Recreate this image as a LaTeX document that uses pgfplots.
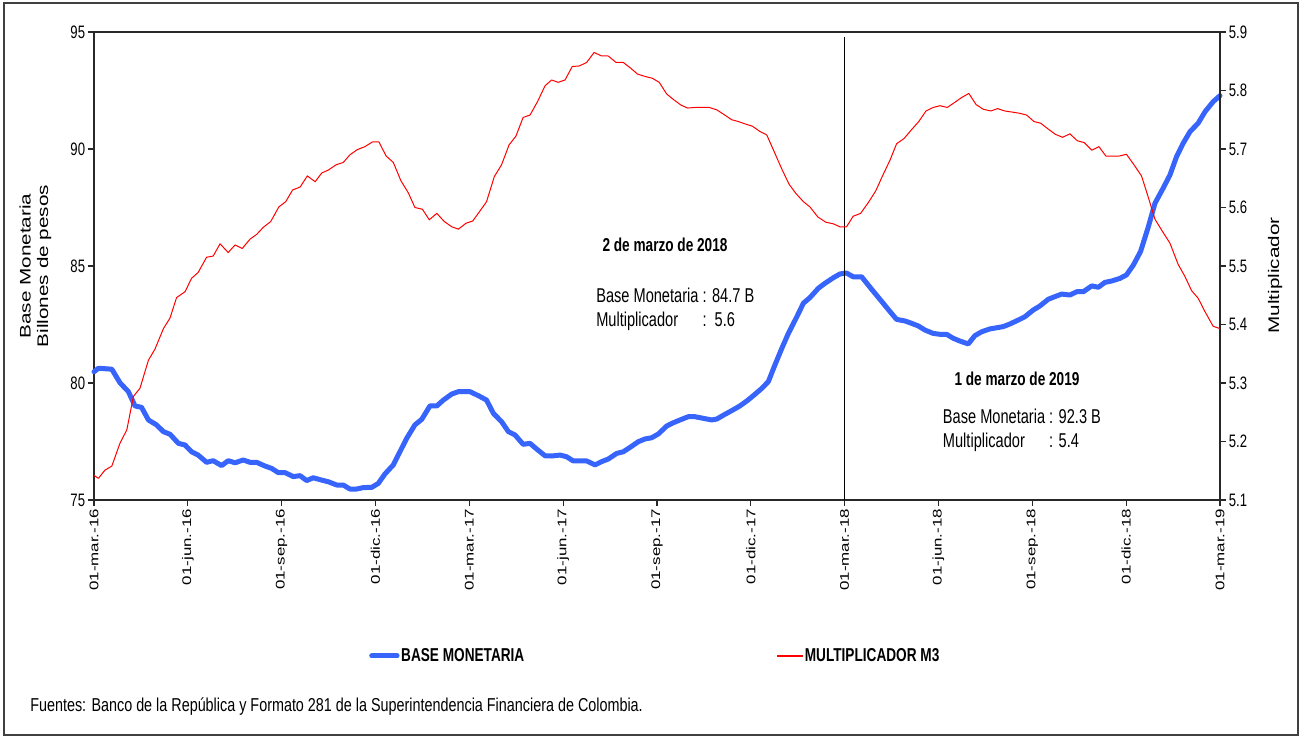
\documentclass[border=0pt]{standalone}
\usepackage{fontspec}
\setmainfont{Liberation Sans}
\newfontfamily\narrow[FakeStretch=0.73]{Liberation Sans}
\newfontfamily\narrowb[FakeStretch=0.77]{Liberation Sans}
\newfontfamily\wide[FakeStretch=1.35]{Liberation Sans}
\usepackage{pgfplots}
\usepackage{pgfplotstable}
\pgfplotsset{compat=1.18}
\definecolor{bmblue}{RGB}{55,100,250}
\definecolor{mred}{RGB}{255,0,0}
\definecolor{axgray}{RGB}{40,40,40}

\pgfplotstableread{
m v
0 80.48
0.14 80.63
0.57 80.59
0.83 80.01
1.10 79.63
1.31 79.02
1.52 78.96
1.74 78.42
2.00 78.21
2.22 77.92
2.43 77.81
2.70 77.42
2.91 77.35
3.12 77.06
3.33 76.92
3.60 76.61
3.81 76.68
4.08 76.47
4.29 76.68
4.51 76.59
4.77 76.71
4.99 76.61
5.20 76.61
5.47 76.45
5.68 76.35
5.89 76.17
6.11 76.17
6.37 76.00
6.59 76.04
6.80 75.83
7.01 75.95
7.28 75.85
7.49 75.78
7.76 75.64
7.97 75.64
8.18 75.47
8.40 75.47
8.61 75.53
8.88 75.54
9.09 75.71
9.30 76.11
9.57 76.50
9.78 77.06
10.00 77.64
10.26 78.21
10.48 78.45
10.74 79.02
10.96 79.02
11.17 79.27
11.44 79.53
11.65 79.63
12.02 79.63
12.30 79.45
12.55 79.27
12.77 78.70
13.03 78.35
13.25 77.92
13.46 77.78
13.72 77.38
13.94 77.42
14.15 77.18
14.42 76.89
14.63 76.88
14.90 76.92
15.11 76.85
15.32 76.67
15.75 76.67
16.02 76.50
16.23 76.64
16.44 76.75
16.71 76.99
16.92 77.06
17.14 77.25
17.40 77.49
17.62 77.61
17.83 77.66
18.04 77.82
18.31 78.16
18.52 78.30
18.79 78.45
19.00 78.56
19.21 78.56
19.48 78.49
19.75 78.42
19.91 78.46
20.17 78.66
20.39 78.82
20.65 79.02
20.87 79.23
21.08 79.46
21.35 79.77
21.56 80.06
21.77 80.77
21.99 81.48
22.20 82.12
22.47 82.83
22.68 83.41
22.89 83.65
23.16 84.05
23.37 84.26
23.64 84.50
23.85 84.66
24.06 84.70
24.27 84.54
24.54 84.54
24.75 84.19
24.97 83.83
25.23 83.41
25.45 83.05
25.66 82.72
25.93 82.65
26.14 82.55
26.35 82.44
26.57 82.26
26.83 82.12
27.05 82.08
27.26 82.08
27.47 81.91
27.69 81.79
27.95 81.67
28.16 82.02
28.38 82.19
28.64 82.31
28.86 82.36
29.07 82.41
29.28 82.52
29.55 82.69
29.76 82.83
30.03 83.12
30.24 83.29
30.51 83.58
30.72 83.69
30.94 83.80
31.20 83.76
31.42 83.90
31.63 83.90
31.90 84.15
32.11 84.09
32.32 84.30
32.54 84.36
32.80 84.47
33.01 84.62
33.23 85.04
33.46 85.62
33.71 86.68
33.92 87.68
34.18 88.32
34.40 88.89
34.61 89.67
34.82 90.24
35.04 90.74
35.30 91.10
35.52 91.59
35.78 92.02
36.00 92.28
}\basetable

\pgfplotstableread{
m v
0 5.142
0.14 5.137
0.35 5.151
0.57 5.158
0.83 5.197
1.05 5.220
1.26 5.277
1.47 5.291
1.74 5.339
1.95 5.358
2.22 5.393
2.43 5.411
2.64 5.446
2.91 5.456
3.12 5.479
3.33 5.489
3.60 5.515
3.81 5.517
4.03 5.538
4.29 5.523
4.51 5.536
4.74 5.530
4.99 5.546
5.20 5.554
5.41 5.566
5.65 5.576
5.91 5.601
6.13 5.610
6.35 5.630
6.59 5.635
6.82 5.654
7.07 5.644
7.28 5.659
7.49 5.664
7.74 5.673
7.97 5.677
8.18 5.690
8.42 5.699
8.66 5.704
8.90 5.712
9.11 5.712
9.34 5.688
9.57 5.677
9.81 5.646
10.05 5.625
10.26 5.600
10.50 5.597
10.72 5.579
10.96 5.590
11.20 5.576
11.44 5.567
11.65 5.563
11.89 5.573
12.11 5.577
12.34 5.594
12.55 5.610
12.80 5.653
13.03 5.673
13.27 5.707
13.49 5.722
13.72 5.754
13.94 5.758
14.18 5.781
14.42 5.808
14.63 5.818
14.84 5.814
15.06 5.818
15.29 5.841
15.52 5.842
15.75 5.848
15.99 5.865
16.23 5.859
16.44 5.859
16.69 5.848
16.92 5.848
17.14 5.839
17.38 5.828
17.62 5.824
17.85 5.821
18.07 5.814
18.31 5.794
18.54 5.784
18.77 5.775
18.98 5.770
19.21 5.771
19.67 5.771
19.91 5.767
20.14 5.759
20.39 5.750
20.60 5.747
20.81 5.743
21.05 5.739
21.29 5.730
21.51 5.724
21.75 5.695
21.98 5.667
22.22 5.640
22.44 5.624
22.68 5.610
22.89 5.601
23.14 5.584
23.39 5.575
23.64 5.572
23.85 5.567
24.06 5.567
24.27 5.585
24.51 5.590
24.75 5.608
24.99 5.628
25.21 5.654
25.45 5.681
25.66 5.709
25.90 5.718
26.12 5.732
26.37 5.747
26.60 5.765
26.83 5.771
27.05 5.774
27.28 5.771
27.50 5.779
27.74 5.788
27.97 5.795
28.20 5.776
28.43 5.768
28.67 5.765
28.89 5.769
29.12 5.765
29.37 5.763
29.60 5.761
29.82 5.758
30.05 5.747
30.27 5.744
30.51 5.734
30.74 5.725
30.97 5.720
31.20 5.726
31.44 5.714
31.66 5.711
31.90 5.698
32.13 5.704
32.35 5.688
32.78 5.688
33.01 5.691
33.25 5.673
33.49 5.654
33.71 5.617
33.92 5.580
34.15 5.560
34.40 5.539
34.66 5.503
34.88 5.482
35.09 5.458
35.30 5.445
35.52 5.422
35.78 5.397
36.00 5.393
}\multtable

\begin{document}
\begin{tikzpicture}
\useasboundingbox (0pt,0pt) rectangle (975pt,552pt);
\draw[line width=0.8pt, black!75] (3pt,0.75pt) rectangle (973.5pt,549.75pt);

\begin{axis}[
  at={(70.5pt,177pt)}, anchor=south west,
  scale only axis, width=844.5pt, height=351pt,
  xmin=0, xmax=36, ymin=75, ymax=95,
  xtick={0,3,...,36},
  xticklabels={01-mar.-16,01-jun.-16,01-sep.-16,01-dic.-16,01-mar.-17,01-jun.-17,01-sep.-17,01-dic.-17,01-mar.-18,01-jun.-18,01-sep.-18,01-dic.-18,01-mar.-19},
  ytick={75,80,85,90,95},
  tick align=outside, tick pos=left,
  major tick length=4.5pt,
  tick style={axgray, line width=0.8pt},
  axis line style={axgray, line width=1pt},
  /pgf/number format/assume math mode=true,
  x tick label style={rotate=90, anchor=east, font=\wide\fontsize{9.4}{11}\selectfont, inner sep=2pt},
  y tick label style={font=\narrow\fontsize{13.5}{16}\selectfont, inner sep=2pt},
  ylabel={Base Monetaria\\Billones de pesos},
  ylabel style={align=center, font=\wide\fontsize{11.5}{13}\selectfont, at={(axis description cs:-0.052,0.5)}, anchor=center},
  clip=false,
]
\addplot[bmblue, line width=3.75pt, line join=round, line cap=round] table[x=m, y=v] {\basetable};
\draw[black, line width=0.75pt] (axis cs:24,75) -- (axis cs:24,94.8);
\end{axis}

\begin{axis}[
  at={(70.5pt,177pt)}, anchor=south west,
  scale only axis, width=844.5pt, height=351pt,
  xmin=0, xmax=36, ymin=5.1, ymax=5.9,
  axis x line=none, axis y line*=right,
  ytick={5.1,5.2,5.3,5.4,5.5,5.6,5.7,5.8,5.9},
  tick align=outside,
  major tick length=4.5pt,
  tick style={axgray, line width=0.8pt},
  axis line style={axgray, line width=1pt},
  /pgf/number format/assume math mode=true,
  /pgf/number format/fixed,
  /pgf/number format/fixed zerofill,
  /pgf/number format/precision=1,
  y tick label style={font=\narrow\fontsize{13.5}{16}\selectfont, inner sep=2pt},
  ylabel={Multiplicador},
  ylabel style={font=\wide\fontsize{11.5}{13}\selectfont, at={(axis description cs:1.049,0.48)}, anchor=center},
  legend columns=2,
  legend cell align=left,
  legend image code/.code={\draw[#1] (0pt,0pt) -- (19pt,0pt);},
  legend style={at={(axis description cs:0.2442,-0.3333)}, anchor=west, draw=none, fill=none,
    font=\narrow\bfseries\fontsize{14}{16}\selectfont, inner sep=0pt,
    nodes={inner sep=1.2pt},
    /tikz/every even column/.append style={column sep=188pt}},
]
\addlegendimage{draw=bmblue, line width=3.75pt, line cap=round}
\addlegendentry{BASE MONETARIA}
\addlegendimage{draw=mred, line width=1pt}
\addlegendentry{MULTIPLICADOR M3}
\addplot[mred, line width=0.75pt, line join=round, forget plot] table[x=m, y=v] {\multtable};
\end{axis}

% annotations
\node[font=\narrow\bfseries\fontsize{14}{16}\selectfont] at (498.75pt,368.25pt) {2 de marzo de 2018};
\node[anchor=west, inner sep=0pt, font=\narrow\fontsize{15}{18}\selectfont] at (447pt,319.5pt)
  {\begin{tabular}{@{}l@{\ }l@{}}Base Monetaria & : 84.7 B\\ Multiplicador & :\ \ 5.6\end{tabular}};
\node[font=\narrow\bfseries\fontsize{14}{16}\selectfont] at (762.75pt,268pt) {1 de marzo de 2019};
\node[anchor=west, inner sep=0pt, font=\narrow\fontsize{15}{18}\selectfont] at (707pt,228.75pt)
  {\begin{tabular}{@{}l@{\ }l@{}}Base Monetaria & : 92.3 B\\ Multiplicador & : 5.4\end{tabular}};
\node[anchor=west, inner sep=0pt, font=\narrowb\fontsize{14}{16}\selectfont] at (22.5pt,21.75pt)
  {Fuentes: Banco de la República y Formato 281 de la Superintendencia Financiera de Colombia.};
\end{tikzpicture}
\end{document}
